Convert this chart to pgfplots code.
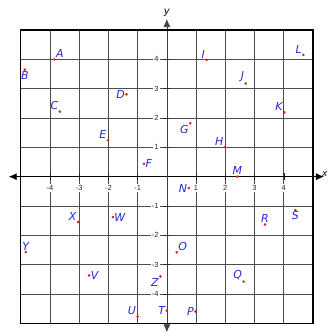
\documentclass[border=0pt]{standalone}
\usepackage{fontspec}
\setmainfont{DejaVu Sans}
\newfontfamily\tickfont{Liberation Sans}
\usepackage{pgfplots}
\pgfplotsset{compat=1.18}
\usetikzlibrary{arrows.meta}
\definecolor{lblblue}{RGB}{40,40,210}
\definecolor{ptred}{RGB}{225,30,30}

\pgfplotsset{
  pt/.style={only marks, mark=*, mark size=1.1bp, ptred,
    nodes near coords, point meta=explicit symbolic,
    nodes near coords style={anchor=#1, font=\itshape\fontsize{11}{11}\selectfont, text=lblblue, inner sep=1.5pt}},
}

\begin{document}
\begin{tikzpicture}
\begin{axis}[
  name=ax,
  scale only axis, width=292bp, height=293bp,
  xmin=-5, xmax=5, ymin=-5, ymax=5,
  axis lines=middle,
  clip=false,
  xtick={-4,-3,-2,-1,1,2,3,4},
  ytick={-4,-3,-2,-1,1,2,3,4},
  xticklabels={-4,-3,-2,-1,1,2,3,4},
  yticklabels={-4,-3,-2,-1,1,2,3,4},
  minor x tick num=4, minor y tick num=4,
  grid=major,
  grid style={black!70, line width=0.8pt},
  major tick length=7bp, minor tick length=5bp,
  tick style={black!85, line width=0.5pt},
  x axis line style={black, line width=0.9pt, {Latex[length=8bp,width=7bp]}-{Latex[length=8bp,width=7bp]}, shorten <=-12bp, shorten >=-11bp},
  y axis line style={black!75, line width=0.6pt, {Latex[length=8bp,width=7bp]}-{Latex[length=8bp,width=7bp]}, shorten <=-9bp, shorten >=-11bp},
  xticklabel style={font=\tickfont\fontsize{7.5}{7.5}\selectfont, text=black!85, fill=white, inner sep=1pt, yshift=-4bp},
  yticklabel style={font=\tickfont\fontsize{7.5}{7.5}\selectfont, text=black!85, fill=white, inner sep=1pt, xshift=-3.5bp},
  xlabel={\itshape x}, ylabel={\itshape y},
  xlabel style={at={(axis description cs:1,0.5)}, anchor=south west, xshift=8.5bp, yshift=-1bp, inner sep=0.5pt, font=\fontsize{9}{9}\selectfont},
  ylabel style={at={(axis description cs:0.5,1)}, anchor=south, yshift=10bp, rotate=0, font=\fontsize{10}{10}\selectfont},
]
\draw[black, line width=1.3pt] (rel axis cs:0,0) rectangle (rel axis cs:1,1);
% label north-west of the point
\addplot[pt=south east] coordinates {
 (-3.66,2.22) [C] (-2.01,1.24) [E] (1.99,1.01) [H] (1.36,3.98) [I]
 (2.70,3.18) [J] (4.02,2.19) [K] (4.67,4.15) [L] (2.63,-3.58) [Q]
 (-1.00,-4.77) [U] (-3.04,-1.55) [X]};
% label north-east
\addplot[pt=south west] coordinates {(-3.85,4.00) [A] (0.34,-2.58) [O]};
% label below
\addplot[pt=north] coordinates {(-4.86,3.65) [B] (4.40,-1.14) [S]};
% label to the left
\addplot[pt=east] coordinates {(-1.38,2.81) [D] (0.75,-0.39) [N] (0.98,-4.60) [P] (0.00,-4.57) [T]};
% label left and slightly lower
\addplot[pt=north east] coordinates {(0.80,1.82) [G]};
% label to the right
\addplot[pt=west] coordinates {(-0.78,0.44) [F] (-2.66,-3.37) [V] (-1.85,-1.38) [W]};
% label above
\addplot[pt=south] coordinates {(2.41,0.00) [M] (3.36,-1.63) [R] (-4.83,-2.57) [Y]};
% label below-left
\addplot[pt=north east] coordinates {(-0.22,-3.40) [Z]};
\end{axis}
\pgfresetboundingbox
\path ([xshift=-20.7bp,yshift=-8.7bp]ax.south west) rectangle ([xshift=15.3bp,yshift=30bp]ax.north east);
\end{tikzpicture}
\end{document}
